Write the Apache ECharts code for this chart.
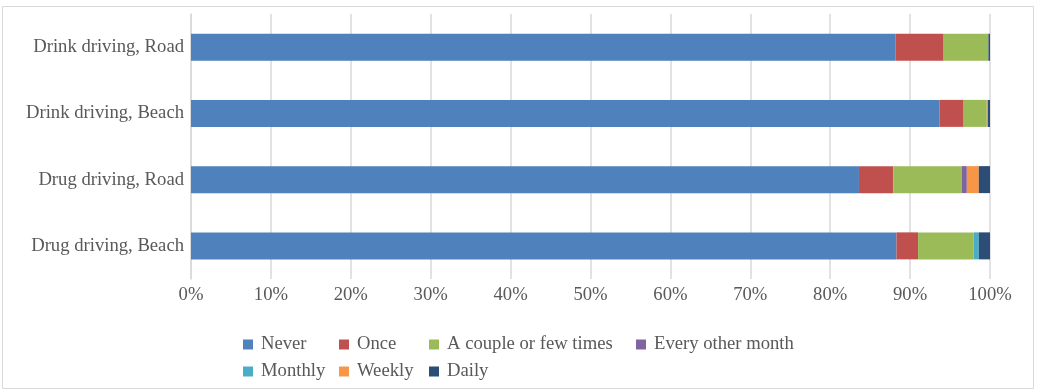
<!DOCTYPE html>
<html>
<head>
<meta charset="utf-8">
<script src="https://cdn.jsdelivr.net/npm/echarts@6/dist/echarts.min.js"></script>
<style>
html,body{margin:0;padding:0;background:#fff;}
#c{width:1037px;height:392px;}
</style>
</head>
<body>
<div id="c"></div>
<script>
const categories = ['Drug driving, Beach', 'Drug driving, Road', 'Drink driving, Beach', 'Drink driving, Road'];
const seriesNames = ['Never', 'Once', 'A couple or few times', 'Every other month', 'Monthly', 'Weekly', 'Daily'];
const never   = [88.3, 83.6, 93.7, 88.2];
const once    = [2.7, 4.3, 3.0, 6.0];
const couple  = [6.95, 8.55, 2.9, 5.6];
const everyOther = [0, 0.65, 0, 0];
const monthly = [0.65, 0, 0, 0];
const weekly  = [0, 1.5, 0.15, 0];
const daily   = [1.4, 1.4, 0.25, 0.2];
const xTicks = [0, 10, 20, 30, 40, 50, 60, 70, 80, 90, 100];
const colors = ['#4f81bd', '#c0504d', '#9bbb59', '#8064a2', '#4bacc6', '#f79646', '#2c4d75'];
const values = [never, once, couple, everyOther, monthly, weekly, daily];

const font = 'Liberation Serif';
const textColor = '#595959';
const fs = 18.67;
const legendPos = [[243, 335], [339, 335], [429, 335], [636, 335], [243, 362], [339, 362], [429, 362]];

const chart = echarts.init(document.getElementById('c'), null, {renderer: 'canvas'});
chart.setOption({
  animation: false,
  color: colors,
  graphic: [{
    type: 'rect', shape: {x: 2.5, y: 6.5, width: 1031, height: 382},
    style: {fill: 'none', stroke: '#d9d9d9', lineWidth: 1}, silent: true
  }],
  grid: {left: 191, right: 47, top: 14, bottom: 113, containLabel: false},
  xAxis: {
    type: 'value', min: 0, max: 100, interval: 10,
    axisLabel: {formatter: v => v + '%', color: textColor, fontFamily: font, fontSize: fs, margin: 7},
    splitLine: {show: true, lineStyle: {color: '#d9d9d9', width: 1.5}},
    axisLine: {show: false}, axisTick: {show: false}
  },
  yAxis: {
    type: 'category', data: categories,
    axisLabel: {color: textColor, fontFamily: font, fontSize: fs, margin: 7},
    axisLine: {show: true, lineStyle: {color: '#d9d9d9', width: 1.5}},
    axisTick: {show: false}
  },
  legend: seriesNames.map((n, i) => ({
    data: [n], left: legendPos[i][0], top: legendPos[i][1],
    itemWidth: 10, itemHeight: 10, itemGap: 6, icon: 'rect',
    textStyle: {color: textColor, fontFamily: font, fontSize: fs, padding: [0, 0, 0, 3]},
    padding: 0, selectedMode: false
  })),
  series: seriesNames.map((n, i) => ({
    name: n, type: 'bar', stack: 'total', data: values[i],
    barWidth: 27,
    itemStyle: {color: colors[i]}
  }))
});
</script>
</body>
</html>
